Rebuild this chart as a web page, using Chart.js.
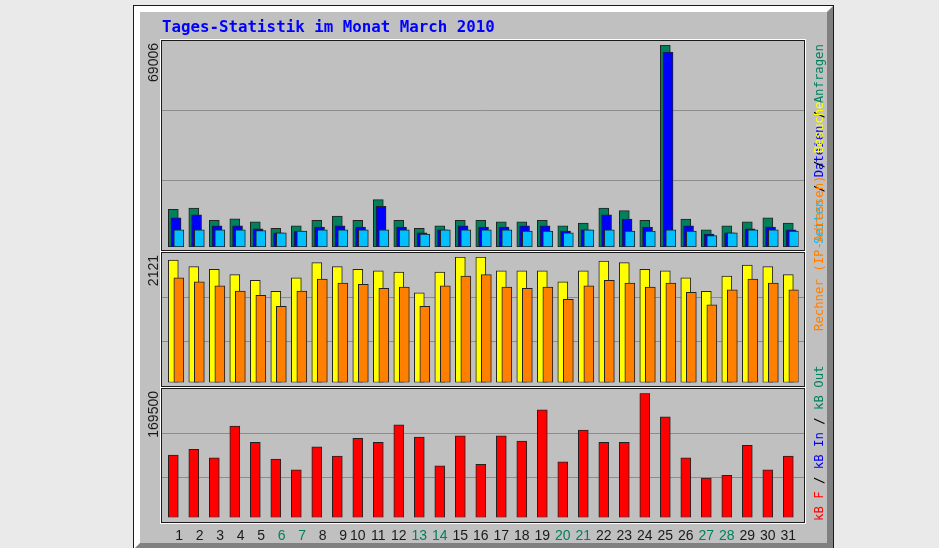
<!DOCTYPE html>
<html>
<head>
<meta charset="utf-8">
<script src="https://cdn.jsdelivr.net/npm/chart.js@4.4.1/dist/chart.umd.min.js"></script>
<style>
  body { margin: 0; background: #eaeaea; width: 939px; height: 548px; overflow: hidden; position: relative; }
  #frame { position: absolute; left: 133px; top: 5px; width: 701px; height: 545px; box-sizing: border-box; border: 1px solid #1a1a1a; }
  #inner { box-sizing: border-box; width: 100%; height: 100%; border-style: solid; border-width: 6px;
           border-color: #ffffff #808080 #808080 #ffffff; background: #c0c0c0; }
  canvas { position: absolute; left: 0; top: 0; }
  #title { position: absolute; left: 162px; top: 18.5px; font: bold 15.8px/16px "DejaVu Sans Mono"; color: #0000ff; white-space: nowrap; }
  .leg { position: absolute; left: 813px; transform-origin: 0 0; transform: rotate(-90deg);
         font: 12.3px/12px "DejaVu Sans Mono"; white-space: pre; color: #000; }
</style>
</head>
<body>
<div id="frame"><div id="inner"></div></div>
<canvas id="hitsChart" width="939" height="548"></canvas>
<canvas id="visitsChart" width="939" height="548"></canvas>
<canvas id="kbChart" width="939" height="548"></canvas>
<div id="title">Tages-Statistik im Monat March 2010</div>
<div class="leg" style="top:244px"><span style="color:#00c0ff">Seiten</span> / <span style="color:#0000ff">Dateien</span> / <span style="color:#00805c">Anfragen</span></div>
<div class="leg" style="top:331px"><span style="color:#ff8000">Rechner (IP-Adressen)</span> / <span style="color:#ffff00">Besuche</span></div>
<div class="leg" style="top:521px"><span style="color:#ff0000">kB F</span> / <span style="color:#0000ff">kB In</span> / <span style="color:#00805c">kB Out</span></div>
<script>
  // Tage im Monat und Wochenenden
  var days = [1, 2, 3, 4, 5, 6, 7, 8, 9, 10, 11, 12, 13, 14, 15, 16, 17, 18, 19, 20, 21, 22, 23, 24, 25, 26, 27, 28, 29, 30, 31];
  var weekendDays = [6, 7, 13, 14, 20, 21, 27, 28];

  // Anfragen / Dateien / Seiten
  var hits  = [12840, 13290, 9080, 9660, 8630, 6340, 7260, 9080, 10550, 9080, 16170, 9080, 6340, 7260, 9080, 9080, 8630, 8630, 9080, 7260, 8150, 13290, 12400, 9080, 69006, 9520, 5890, 7260, 8630, 10000, 8150];
  var files = [10000, 11030, 7260, 7260, 6230, 4860, 5410, 6780, 7260, 6780, 13870, 6780, 4860, 5890, 7260, 6780, 6780, 7260, 7260, 5410, 5890, 11030, 9520, 6780, 66620, 7260, 4380, 4860, 6230, 6780, 5890];
  var pages = [5890, 5880, 5900, 5890, 5650, 4860, 5410, 5890, 5880, 5890, 5900, 5890, 4380, 5890, 5880, 5890, 5890, 5410, 5410, 4860, 5890, 5880, 5410, 5410, 5890, 5410, 3940, 4860, 5890, 5880, 5410];

  // Besuche / Rechner
  var visits = [2070, 1957, 1913, 1822, 1727, 1541, 1771, 2025, 1957, 1913, 1889, 1867, 1517, 1867, 2121, 2118, 1889, 1889, 1889, 1703, 1889, 2054, 2025, 1913, 1889, 1771, 1541, 1800, 1986, 1957, 1822];
  var sites  = [1771, 1703, 1635, 1546, 1473, 1287, 1546, 1749, 1681, 1659, 1591, 1613, 1287, 1635, 1800, 1822, 1613, 1591, 1613, 1405, 1635, 1727, 1681, 1613, 1681, 1524, 1314, 1568, 1749, 1681, 1568];

  // kB
  var kbytes = [85170, 92960, 81470, 124800, 102500, 79700, 65070, 96510, 83800, 108000, 102500, 126600, 109800, 70540, 111500, 72450, 111500, 104300, 147100, 76000, 119300, 102500, 102500, 169500, 137500, 81470, 53720, 57410, 98420, 65070, 83800];

  function points(values) {
    return days.map(function (d, i) { return { x: d, y: values[i] }; });
  }

  // shift in Tagen, damit die Balken leicht versetzt liegen
  function dayAxis(shift, display) {
    return { type: 'linear', display: display, offset: false, bounds: 'data', min: 0.5 - shift, max: 31.5 - shift };
  }

  function bars(label, values, color, axis, order) {
    return {
      label: label, data: points(values), xAxisID: axis, order: order,
      backgroundColor: color, borderColor: '#222222', borderWidth: 1, borderSkipped: false,
      barThickness: 10, grouped: false
    };
  }

  var panelPlugin = {
    id: 'panel',
    beforeDatasetsDraw: function (chart, args, o) {
      var ctx = chart.ctx, a = chart.chartArea;
      var l = Math.round(a.left) - 2, r = Math.round(a.right) + 5;
      var t = Math.round(a.top) - o.top, b = Math.round(a.bottom) + o.bottom;
      ctx.save();
      ctx.lineWidth = 1;
      ctx.strokeStyle = '#8c8c8c';
      for (var k = 1; k < 3; k++) {
        var gy = Math.round(t + (b - t) * k / 3) + 0.5;
        ctx.beginPath(); ctx.moveTo(l, gy); ctx.lineTo(r, gy); ctx.stroke();
      }
      ctx.strokeStyle = '#ffffff';
      ctx.strokeRect(l - 0.5, t - 0.5, r - l + 2, b - t + 2);
      ctx.strokeStyle = '#1a1a1a';
      ctx.strokeRect(l + 0.5, t + 0.5, r - l, b - t);
      // Maximalwert links oben
      ctx.translate(154, t + 3);
      ctx.rotate(-Math.PI / 2);
      ctx.font = '14px "Liberation Sans"';
      ctx.fillStyle = '#1a1a1a';
      ctx.textAlign = 'right';
      ctx.textBaseline = 'middle';
      ctx.fillText(String(chart.scales.y.max), 0, 0);
      ctx.restore();
    }
  };

  function makeChart(id, datasets, yMax, pad, frame, xAxes) {
    return new Chart(document.getElementById(id), {
      type: 'bar',
      data: { datasets: datasets },
      options: {
        responsive: false,
        animation: false,
        layout: { autoPadding: false, padding: pad },
        plugins: { legend: { display: false }, tooltip: { enabled: false }, panel: frame },
        scales: Object.assign({ y: { display: false, min: 0, max: yMax } }, xAxes)
      },
      plugins: [panelPlugin]
    });
  }

  makeChart('hitsChart', [
      bars('Anfragen', hits, '#00805c', 'x', 3),
      bars('Dateien', files, '#0000ff', 'xb', 2),
      bars('Seiten', pages, '#00c0ff', 'xc', 1)
    ], Math.max.apply(null, hits),
    { left: 163.05, right: 140.45, top: 45, bottom: 301 }, { top: 5, bottom: 3 },
    { x: dayAxis(0, false), xb: dayAxis(0.134, false), xc: dayAxis(0.27, false) });

  makeChart('visitsChart', [
      bars('Besuche', visits, '#ffff00', 'x', 2),
      bars('Rechner', sites, '#ff8000', 'xo', 1)
    ], Math.max.apply(null, visits),
    { left: 163.05, right: 140.45, top: 257, bottom: 165.5 }, { top: 5, bottom: 3 },
    { x: dayAxis(0, false), xo: dayAxis(0.27, false) });

  var xLabels = dayAxis(0, true);
  xLabels.grid = { display: false, drawTicks: false };
  xLabels.border = { display: false };
  xLabels.afterFit = function (s) { s.height = 25; };
  xLabels.afterBuildTicks = function (s) { s.ticks = days.map(function (d) { return { value: d }; }); };
  xLabels.ticks = {
    autoSkip: false, maxRotation: 0, minRotation: 0, padding: 10,
    font: { family: 'Liberation Sans', size: 14 },
    color: function (c) { return weekendDays.indexOf(c.tick.value) >= 0 ? '#00805c' : '#1a1a1a'; },
    callback: function (v) { return v < 10 ? '   ' + v : String(v); }
  };

  makeChart('kbChart', [
      bars('kB F', kbytes, '#ff0000', 'x', 1)
    ], Math.max.apply(null, kbytes),
    { left: 163.05, right: 140.45, top: 393.3, bottom: 5.5 }, { top: 5, bottom: 4 },
    { x: xLabels });
</script>
</body>
</html>
